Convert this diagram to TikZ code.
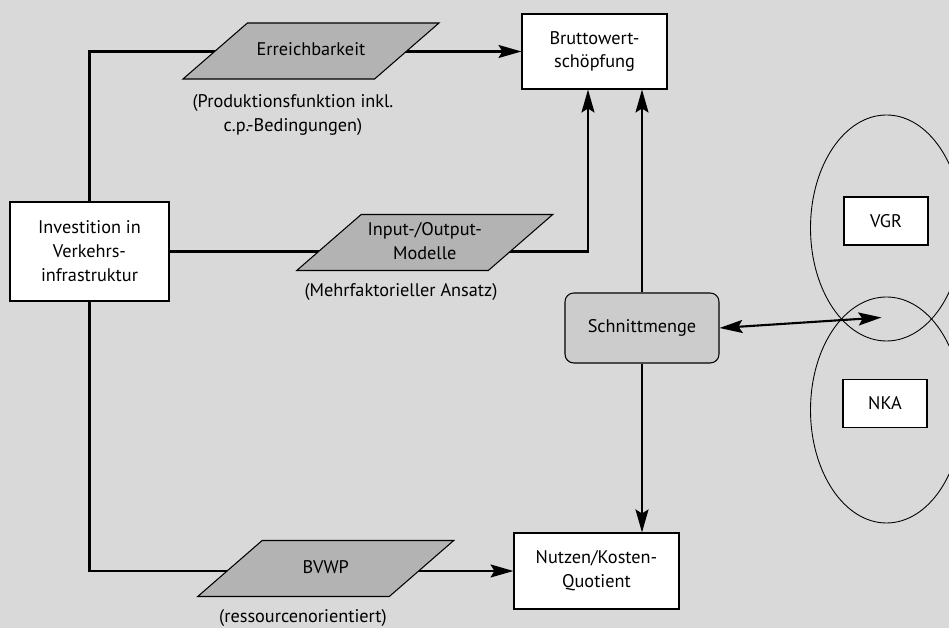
\documentclass[tikz,border=0pt]{standalone}
\usepackage{fontspec}
\setmainfont{PT Sans}
\usepackage{tikz}
\usetikzlibrary{shapes.geometric, arrows.meta, positioning, calc, backgrounds}
\definecolor{bggray}{RGB}{217,217,217}
\definecolor{parafill}{RGB}{179,179,179}
\definecolor{setfill}{RGB}{204,204,204}
\newcommand{\txt}{\fontsize{10.4}{13.6}\selectfont}
\tikzset{
  box/.style={rectangle, draw=black, fill=white, align=center,
    font=\txt, line width=0.6pt, inner sep=2pt},
  para/.style={trapezium, trapezium left angle=41, trapezium right angle=139,
    trapezium stretches body, draw=black, fill=parafill, align=center,
    minimum width=5.12cm, font=\txt, line width=0.6pt, inner xsep=2pt,
    text height=0.3cm, text depth=0.1cm, inner ysep=0.36cm},
  para2/.style={para, text height=0.78cm, inner ysep=0.12cm},
  setbox/.style={rectangle, draw=black, fill=setfill, rounded corners=5pt,
    minimum width=3.08cm, minimum height=1.4cm, font=\txt, line width=0.6pt},
  note/.style={align=center, font=\txt},
  conn/.style={line width=1.2pt, color=black},
  arrow/.style={conn, -{Stealth[length=0.46cm, width=0.26cm, inset=0.08cm]}},
  dblarrow/.style={conn, {Stealth[length=0.46cm, width=0.26cm, inset=0.08cm]}-{Stealth[length=0.46cm, width=0.26cm, inset=0.08cm]}}
}

\begin{document}
\begin{tikzpicture}
  \useasboundingbox (0,0) rectangle (18.98,12.56);
  \clip (0,0) rectangle (18.98,12.56);

  % Main boxes
  \node[box, minimum width=3.18cm, minimum height=1.98cm] (inv) at (1.79,7.53) {Investition in\\Verkehrs-\\infrastruktur};
  \node[box, minimum width=2.9cm, minimum height=1.5cm] (brutto) at (11.89,11.53) {Bruttowert-\\schöpfung};
  \node[box, minimum width=3.3cm, minimum height=1.52cm] (nutzen) at (11.93,1.14) {Nutzen/Kosten-\\Quotient};
  \node[setbox] (schnitt) at (12.84,6.0) {Schnittmenge};

  % Methods
  \node[para] (erre) at (6.22,11.54) {Erreichbarkeit};
  \node[para2] (io) at (8.495,7.71) {Input-/Output-\\Modelle};
  \node[para] (bvwp) at (6.515,1.19) {BVWP};

  \node[note] (erretxt) at (5.86,10.26) {(Produktionsfunktion inkl.\\c.p.-Bedingungen)};
  \node[note] (iotxt) at (8.02,6.72) {(Mehrfaktorieller Ansatz)};
  \node[note] (bvwptxt) at (6.06,0.2) {(ressourcenorientiert)};

  % VGR and NKA
  \draw[line width=0.5pt] (17.73,8.0) ellipse [x radius=1.52cm, y radius=2.26cm];
  \draw[line width=0.5pt] (17.73,4.36) ellipse [x radius=1.52cm, y radius=2.26cm];
  \node[box, minimum width=1.68cm, minimum height=0.96cm] (vgr) at (17.72,8.14) {VGR};
  \node[box, minimum width=1.68cm, minimum height=0.96cm] (nka) at (17.70,4.49) {NKA};
  \coordinate (cut) at (17.63,6.21);

  % Connectors
  \begin{scope}[on background layer]
    \fill[bggray] (0,0) rectangle (18.98,12.56);
    \draw[arrow] (inv.north) |- (brutto.west);
    \draw[arrow] (inv.east) -| ($(brutto.south)+(-0.13,0)$);
    \draw[arrow] (inv.south) |- (nutzen.west);
  \end{scope}
  \draw[arrow] (schnitt.north) -- (schnitt.north |- brutto.south);
  \draw[arrow] (schnitt.south) -- (schnitt.south |- nutzen.north);
  \draw[dblarrow] (schnitt.east) -- (cut);
\end{tikzpicture}
\end{document}
